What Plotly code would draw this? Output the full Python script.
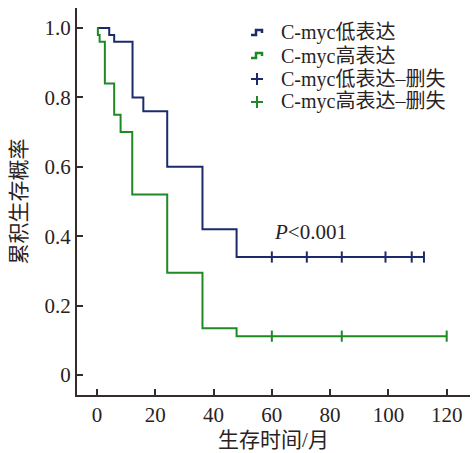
import plotly.graph_objects as go

# Kaplan-Meier step data
low_times = [0, 4.2, 5.9, 12.2, 15.9, 24.1, 36.2, 47.9, 112.2]
low_surv = [1.0, 0.98, 0.96, 0.80, 0.76, 0.60, 0.42, 0.34, 0.34]
low_censor_t = [60, 72, 84, 99, 108, 112.2]

high_times = [0, 0.3, 0.9, 2.7, 5.9, 8.1, 12.1, 24.1, 36.2, 47.9, 120]
high_surv = [1.0, 0.98, 0.96, 0.84, 0.75, 0.70, 0.52, 0.295, 0.135, 0.112, 0.112]
high_censor_t = [60, 84, 120]

x_ticks = [0, 20, 40, 60, 80, 100, 120]
y_ticks = [0, 0.2, 0.4, 0.6, 0.8, 1.0]
y_ticktext = ["0", "0.2", "0.4", "0.6", "0.8", "1.0"]

names = ["C-myc低表达", "C-myc高表达", "C-myc低表达–删失", "C-myc高表达–删失"]

BLUE = "#1c2a6c"
GREEN = "#1f8a24"
AXIS = "#352b2b"
TEXT = "#2a2222"
FONT = "Liberation Serif, Noto Sans CJK SC, serif"

W, H = 476, 453
ML, MR, MT, MB = 77, 6, 8, 58
PW, PH = W - ML - MR, H - MT - MB


def px(x):
    return (x - ML) / PW


def py(y):
    return (H - MB - y) / PH


def surv_at(times, surv, t):
    v = surv[0]
    for ti, si in zip(times, surv):
        if ti <= t:
            v = si
    return v


fig = go.Figure()
fig.add_trace(go.Scatter(x=low_times, y=low_surv, mode="lines", name=names[0],
                         line=dict(color=BLUE, width=2, shape="hv")))
fig.add_trace(go.Scatter(x=high_times, y=high_surv, mode="lines", name=names[1],
                         line=dict(color=GREEN, width=2, shape="hv")))
fig.add_trace(go.Scatter(x=low_censor_t, y=[surv_at(low_times, low_surv, t) for t in low_censor_t],
                         mode="markers", name=names[2], cliponaxis=False,
                         marker=dict(symbol="line-ns", size=8, line=dict(color=BLUE, width=2), color=BLUE)))
fig.add_trace(go.Scatter(x=high_censor_t, y=[surv_at(high_times, high_surv, t) for t in high_censor_t],
                         mode="markers", name=names[3], cliponaxis=False,
                         marker=dict(symbol="line-ns", size=8, line=dict(color=GREEN, width=2), color=GREEN)))

fig.add_annotation(x=60.0, y=0.412, xref="x", yref="y", text="<i>P</i>&lt;0.001",
                   showarrow=False, xanchor="left", yanchor="middle",
                   font=dict(family=FONT, size=21, color=TEXT))

# manual legend (step glyphs and crosses like the reference)
row_y = [33, 56, 79, 102]
colors = [BLUE, GREEN, BLUE, GREEN]
for i, (name, col, ry) in enumerate(zip(names, colors, row_y)):
    fig.add_annotation(x=px(279), y=py(ry), xref="paper", yref="paper", text=name,
                       showarrow=False, xanchor="left", yanchor="middle",
                       font=dict(family=FONT, size=20, color=TEXT))
    if i < 2:
        pts = [(251, ry + 2), (256, ry + 2), (256, ry - 3), (262, ry - 3), (262, ry)]
        path = "M " + " L ".join(f"{px(a):.5f},{py(b):.5f}" for a, b in pts)
        fig.add_shape(type="path", path=path, xref="paper", yref="paper",
                      line=dict(color=col, width=2.5))
    else:
        fig.add_shape(type="line", x0=px(251), x1=px(263), y0=py(ry), y1=py(ry),
                      xref="paper", yref="paper", line=dict(color=col, width=2))
        fig.add_shape(type="line", x0=px(257), x1=px(257), y0=py(ry - 6), y1=py(ry + 6),
                      xref="paper", yref="paper", line=dict(color=col, width=2))

fig.update_layout(
    width=W, height=H,
    margin=dict(l=ML, r=MR, t=MT, b=MB),
    paper_bgcolor="white", plot_bgcolor="white",
    font=dict(family=FONT, size=21, color=TEXT),
    showlegend=False,
    xaxis=dict(range=[-6.86, 128], tickvals=x_ticks, ticks="inside", ticklen=6, tickwidth=2,
               tickcolor=AXIS, showline=True, linecolor=AXIS, linewidth=2, showgrid=False,
               zeroline=False, tickfont=dict(size=21),
               title=dict(text="生存时间/月", font=dict(family=FONT, size=21), standoff=6)),
    yaxis=dict(range=[-0.0576, 1.0576], tickvals=y_ticks, ticktext=y_ticktext, ticks="inside",
               ticklen=6, tickwidth=2, tickcolor=AXIS, showline=True, linecolor=AXIS, linewidth=2,
               showgrid=False, zeroline=False, tickfont=dict(size=21),
               title=dict(text="累积生存概率", font=dict(family=FONT, size=21), standoff=12)),
)

fig.write_html("out.html", config={"displayModeBar": False},
               post_script="document.body.style.margin='0';")
